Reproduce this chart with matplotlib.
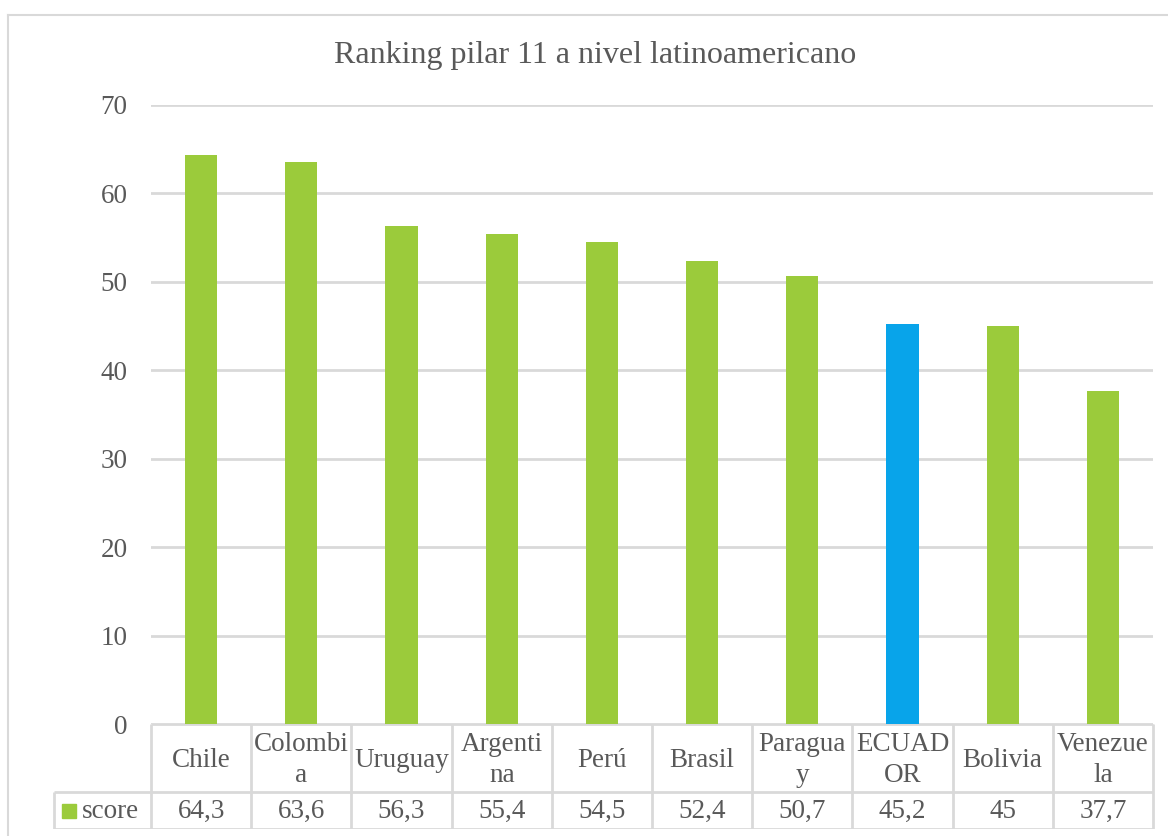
import matplotlib.pyplot as plt
from matplotlib.lines import Line2D

plt.rcParams['font.family'] = ['Liberation Serif', 'DejaVu Serif']

# Data
countries = ['Chile', 'Colombia', 'Uruguay', 'Argentina', 'Perú',
             'Brasil', 'Paraguay', 'ECUADOR', 'Bolivia', 'Venezuela']
# names as they wrap inside the table cells
cell_labels = ['Chile', 'Colombi\na', 'Uruguay', 'Argenti\nna', 'Perú',
               'Brasil', 'Paragua\ny', 'ECUAD\nOR', 'Bolivia', 'Venezue\nla']
score = [64.3, 63.6, 56.3, 55.4, 54.5, 52.4, 50.7, 45.2, 45.0, 37.7]
score_labels = ['64,3', '63,6', '56,3', '55,4', '54,5',
                '52,4', '50,7', '45,2', '45', '37,7']
highlight = 'ECUADOR'

green = '#9BCB3B'
blue = '#08A4EA'
grey_txt = '#595959'
grid_col = '#D9D9D9'
fs = 19.5

W, H = 1168, 836
fig = plt.figure(figsize=(W / 100, H / 100), dpi=100)

# outer chart frame (right and bottom run off the page)
fig.add_artist(Line2D([8 / W, 1], [1 - 15 / H, 1 - 15 / H], color=grid_col, lw=1.5))
fig.add_artist(Line2D([8 / W, 8 / W], [0, 1 - 15 / H], color=grid_col, lw=1.5))

# main plot area
left, right, top, base = 151, 1153, 105, 724
ax = fig.add_axes([left / W, 1 - base / H, (right - left) / W, (base - top) / H])
x = list(range(len(countries)))
colors = [blue if c == highlight else green for c in countries]
ax.bar(x, score, width=0.32, color=colors, zorder=3)
ax.set_xlim(-0.5, len(countries) - 0.5)
ax.set_ylim(0, 70)
ax.set_yticks(range(0, 71, 10))
ax.yaxis.grid(True, color=grid_col, lw=2, zorder=0)
ax.set_xticks([])
for s in ax.spines.values():
    s.set_visible(False)
ax.tick_params(axis='y', length=0, pad=17, labelsize=fs, labelcolor=grey_txt)

fig.text(595 / W, 1 - 56 / H, 'Ranking pilar 11 a nivel latinoamericano',
         ha='center', va='center', fontsize=23, color=grey_txt)

# data table under the bars
row1_top, row_sep, row2_bot = 724, 792, 829
tab = fig.add_axes([0, 1 - row2_bot / H, 1, (row2_bot - row1_top) / H])
tab.set_xlim(0, W)
tab.set_ylim(row2_bot, row1_top)
tab.axis('off')
col_w = (right - left) / len(countries)
lc = dict(color=grid_col, lw=2, solid_capstyle='butt')
tab.plot([left, right], [row1_top, row1_top], **lc)
tab.plot([54, right], [row_sep, row_sep], **lc)
tab.plot([54, right], [row2_bot, row2_bot], **lc)
tab.plot([54, 54], [row_sep, row2_bot], **lc)
for i in range(len(countries) + 1):
    xx = left + i * col_w
    tab.plot([xx, xx], [row1_top, row2_bot], **lc)
for i, (lab, val) in enumerate(zip(cell_labels, score_labels)):
    cx = left + (i + 0.5) * col_w
    tab.text(cx, (row1_top + row_sep) / 2 + 2, lab, ha='center', va='center',
             fontsize=fs, color=grey_txt, linespacing=1.3)
    tab.text(cx, (row_sep + row2_bot) / 2 + 1, val, ha='center', va='center',
             fontsize=fs, color=grey_txt)

# legend key in the first column
tab.add_patch(plt.Rectangle((62, 804), 14, 14, color=green))
tab.text(82, 811, 'score', ha='left', va='center', fontsize=fs, color=grey_txt)

fig.savefig('out.png', dpi=100)
